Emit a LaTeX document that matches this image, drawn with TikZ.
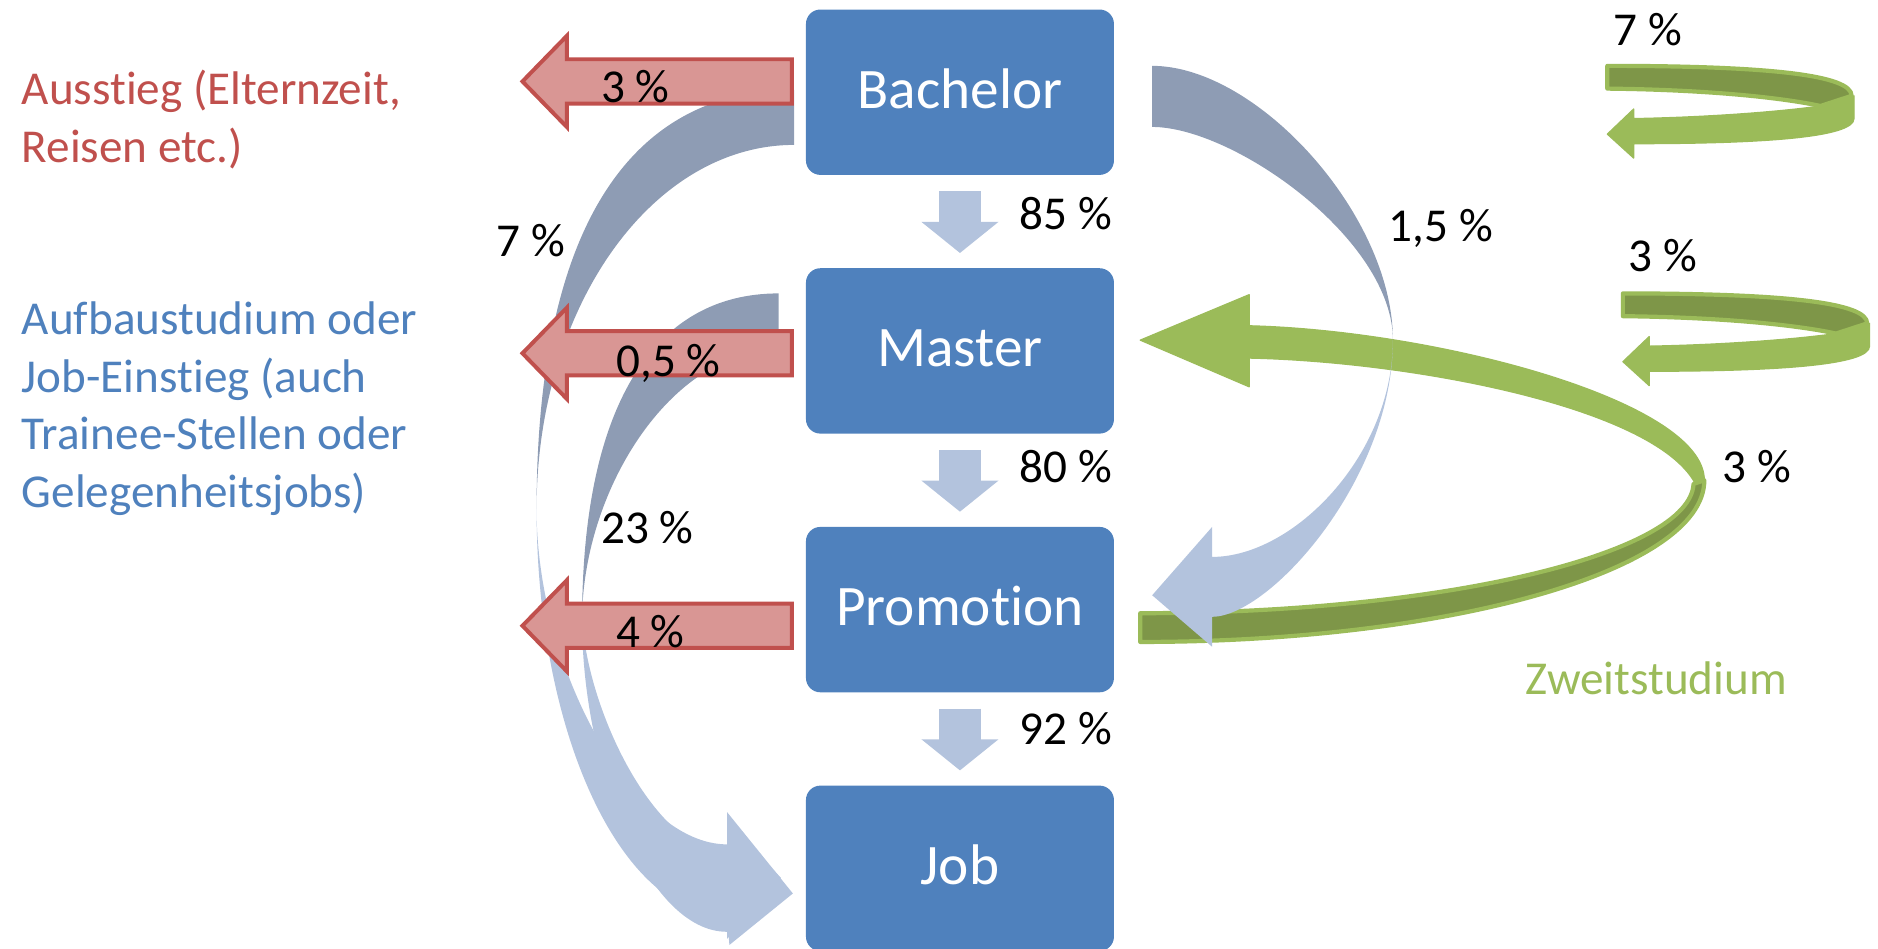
\documentclass[tikz,border=0pt]{standalone}
\usepackage{fontspec}
\setmainfont{Carlito}[Ligatures=NoCommon,Contextuals=NoAlternate,RawFeature={-liga;-clig;-dlig}]
\usetikzlibrary{calc,arrows.meta}
\definecolor{boxblue}{HTML}{4F81BD}
\definecolor{lblue}{HTML}{B3C3DD}
\definecolor{dblue}{HTML}{8E9CB4}
\definecolor{redfill}{HTML}{D99694}
\definecolor{redline}{HTML}{C0504D}
\definecolor{lgreen}{HTML}{9BBB59}
\definecolor{dgreen}{HTML}{7E9648}
\newcommand{\redarrow}[2]{%
  \filldraw[redarr] ($(#1.west)+(-11,#2-18.5)$) -- ($(#1.west)+(-199,#2-18.5)$) -- ($(#1.west)+(-199,#2-38)$) -- ($(#1.west)+(-236,#2)$) -- ($(#1.west)+(-199,#2+38)$) -- ($(#1.west)+(-199,#2+18.5)$) -- ($(#1.west)+(-11,#2+18.5)$) -- cycle;}
\begin{document}
\begin{tikzpicture}[x=0.01cm,y=-0.01cm,
  box/.style={rectangle, rounded corners=0.12cm, fill=boxblue, text=white, minimum width=2.57cm, minimum height=1.38cm, inner sep=0pt, font=\fontsize{13.6}{16}\selectfont, text height=0.364cm, text depth=0.1cm},
  lbl/.style={anchor=base, inner sep=0pt, font=\fontsize{11.2}{13.7}\selectfont},
  side/.style={anchor=base west, inner sep=0pt, font=\fontsize{11.2}{13.7}\selectfont},
  downarr/.style={draw=lblue, line width=0.35cm, -{Triangle[width=0.63cm,length=0.26cm]}},
  redarr/.style={fill=redfill, draw=redline, line width=0.033cm, line join=miter},
  gback/.style={fill=dgreen, draw=lgreen, line width=0.035cm, line join=round},
  gfront/.style={fill=lgreen, draw=lgreen, line width=0.01cm, line join=round},
  backface/.style={fill=dblue},
  frontface/.style={fill=lblue}]
\path[use as bounding box] (0,0) rectangle (1568,792);

% boxes
\node[box] (bach) at (801.5,77) {Bachelor};
\node[box] (mast) at (801.5,293) {Master};
\node[box] (prom) at (801.5,509) {Promotion};
\node[box] (job) at (801.5,725) {Job};

% straight down arrows
\draw[downarr] ($(bach.south)+(0,13)$) -- ($(mast.north)+(0,-12)$);
\draw[downarr] ($(mast.south)+(0,13)$) -- ($(prom.north)+(0,-12)$);
\draw[downarr] ($(prom.south)+(0,13)$) -- ($(job.north)+(0,-12)$);

% big green arrow (Promotion -> Master)
\filldraw[gback] (952,512) -- (952,536) .. controls (1212,536) and (1423,475.6) .. (1423,401) -- (1414,404) .. controls (1411,462.3) and (1205.5,512) .. (952,512) -- cycle;
\filldraw[gfront] (1043,272) .. controls (1200,276) and (1423,335) .. (1423,401) -- (1415,403) .. controls (1380,340) and (1180,302) .. (1043,299) -- (1043,323) -- (952,284) -- (1043,246) -- cycle;

% 7 % arrow Bachelor -> Job
\fill[backface] (663,75) .. controls (520,75) and (448,200) .. (448,425) .. controls (448,257) and (544,121) .. (663,121) -- cycle;
\fill[frontface] (448,425) .. controls (448,613) and (519,765) .. (607,765) -- (609,789) -- (662,746) -- (607,678) -- (607,705) .. controls (530,705) and (448,560) .. (448,425) -- cycle;
% 23 % arrow Master -> Job
\fill[backface] (650,245) .. controls (545,245) and (486,340) .. (486,518) .. controls (486,410) and (560,292) .. (650,292) -- cycle;
\fill[frontface] (486,518) .. controls (486,640) and (540,778) .. (607,778) -- (607,784) -- (652,733) -- (607,684) -- (607,712) .. controls (550,712) and (492,600) .. (486,518) -- cycle;
% 1,5 % arrow Bachelor -> Promotion
\fill[backface] (962,55) .. controls (1050,55) and (1163,180) .. (1163,284) .. controls (1163,200) and (1030,106) .. (962,106) -- cycle;
\fill[frontface] (1163,284) .. controls (1163,400) and (1060,515) .. (1012,515) -- (1012,540) -- (962,497) -- (1012,440) -- (1012,465) .. controls (1080,465) and (1163,380) .. (1163,284) -- cycle;

% red exit arrows
\redarrow{bach}{-9}
\redarrow{mast}{2}
\redarrow{prom}{13.5}

% small green U-turn arrows
\filldraw[gback] (1342,55) .. controls (1480,55) and (1546,63) .. (1546,80) -- (1520,88.5) .. controls (1490,82) and (1430,75) .. (1342,74) -- cycle;
\filldraw[gfront] (1548,80) -- (1548,99) .. controls (1548,115) and (1470,120) .. (1364,120) -- (1364,132) -- (1342,112) -- (1364,91) -- (1364,99) .. controls (1420,98) and (1480,94) .. (1520,88.5) -- cycle;
\begin{scope}[shift={(13,190)}]
\filldraw[gback] (1342,55) .. controls (1480,55) and (1546,63) .. (1546,80) -- (1520,88.5) .. controls (1490,82) and (1430,75) .. (1342,74) -- cycle;
\filldraw[gfront] (1548,80) -- (1548,99) .. controls (1548,115) and (1470,120) .. (1364,120) -- (1364,132) -- (1342,112) -- (1364,91) -- (1364,99) .. controls (1420,98) and (1480,94) .. (1520,88.5) -- cycle;
\end{scope}

% labels
\node[lbl] (l85) at (890,191.5) {85 \%};
\node[lbl] (l80) at (890,402.5) {80 \%};
\node[lbl] (l92) at (890,621.5) {92 \%};
\node[lbl] (l3a) at (530.5,85.7) {3 \%};
\node[lbl] (l05) at (558,314.5) {0,5 \%};
\node[lbl] (l4) at (543,541) {4 \%};
\node[lbl] (l7a) at (443,214) {7 \%};
\node[lbl] (l23) at (540.5,453.6) {23 \%};
\node[lbl] (l15) at (1203,202) {1,5 \%};
\node[lbl] (l7b) at (1376,37.6) {7 \%};
\node[lbl] (l3b) at (1388.5,227) {3 \%};
\node[lbl] (l3c) at (1467,403) {3 \%};
\node[lbl, text=lgreen] (zw) at (1383,579.5) {Zweitstudium};

\node[side, text=redline] (a1) at (17.5,87) {Ausstieg (Elternzeit,};
\node[side, text=redline] (a2) at (17.5,135.5) {Reisen etc.)};
\node[side, text=boxblue] (b1) at (17.5,279) {Aufbaustudium oder};
\node[side, text=boxblue] (b2) at (17.5,327.5) {Job-Einstieg (auch};
\node[side, text=boxblue] (b3) at (17.5,375.7) {Trainee-Stellen oder};
\node[side, text=boxblue] (b4) at (17.5,423.6) {Gelegenheitsjobs)};
\end{tikzpicture}
\end{document}
